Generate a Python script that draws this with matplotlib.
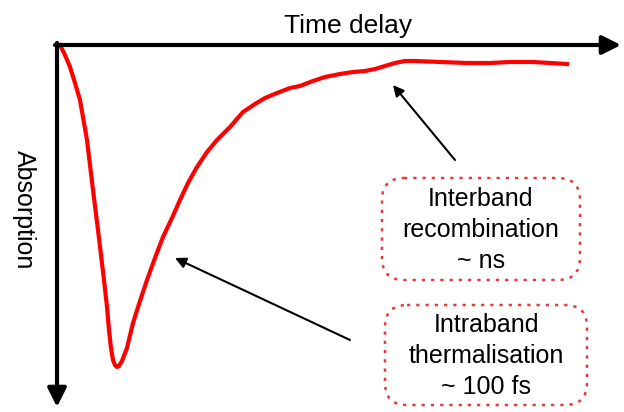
import numpy as np
import matplotlib
matplotlib.use("Agg")
import matplotlib.pyplot as plt
from matplotlib.patches import FancyBboxPatch

plt.rcParams['font.family'] = ['Liberation Sans', 'DejaVu Sans']

# transient absorption trace (arbitrary units,
# time to the right, absorption change growing downwards)
time_delay = [3, 8, 13, 18, 23, 30, 36, 41, 44, 47, 50, 52, 54, 56, 58, 60,
              62, 65, 70, 76, 83, 90, 98, 106, 115, 123, 131, 140, 150, 160,
              173, 186, 198, 208, 220, 233, 243, 256, 268, 283, 296, 308,
              318, 328, 338, 348, 358, 383, 410, 433, 453, 476, 493, 510]
absorption = [0, 10, 22, 38, 55, 95, 145, 185, 210, 235, 262, 285, 303, 315,
              320, 322, 321, 316, 303, 278, 256, 235, 213, 192, 173, 155, 138,
              122, 107, 95, 82, 67, 59, 53, 48, 43, 41, 36, 32, 29, 27, 26,
              24, 21, 18, 16, 16, 17, 18, 18, 17, 17, 18, 19]

labels = ["Interband\nrecombination\n~ ns", "Intraband\nthermalisation\n~ 100 fs"]
arrow_tip = [(336, 40), (118, 213)]
arrow_tail = [(398, 115), (293, 295)]
box_ext = [(325, 133, 198, 102), (328, 260, 202, 100)]

fig = plt.figure(figsize=(6.24, 4.12), dpi=100)
ax = fig.add_axes([0, 0, 1, 1])
ax.set_xlim(-57, 567)
ax.set_ylim(367, -45)
ax.axis('off')

# axes arrows
ax.annotate('', xy=(564, 0), xytext=(-2, 0),
            arrowprops=dict(arrowstyle='-|>', lw=3, color='black',
                            mutation_scale=28, shrinkA=0, shrinkB=0))
ax.annotate('', xy=(0, 362), xytext=(0, -2),
            arrowprops=dict(arrowstyle='-|>', lw=3, color='black',
                            mutation_scale=28, shrinkA=0, shrinkB=0))
ax.text(291, -19, 'Time delay', fontsize=19, ha='center', va='center')
ax.text(-33, 165, 'Absorption', fontsize=18, ha='center', va='center',
        rotation=270)

ax.plot(time_delay, absorption, color='#ff0000', lw=3, solid_joinstyle='round')

for lab, tip, tail, (bx, by, bw, bh) in zip(labels, arrow_tip, arrow_tail, box_ext):
    box = FancyBboxPatch((bx, by), bw, bh,
                         boxstyle='round,pad=0,rounding_size=22',
                         fill=False, edgecolor='#e03c3c', lw=1.8,
                         linestyle=(0, (1.3, 2.4)))
    ax.add_patch(box)
    ax.text(bx + bw / 2, by + bh / 2 + 1, lab, fontsize=18, ha='center',
            va='center', linespacing=1.38)
    ax.annotate('', xy=tip, xytext=tail,
                arrowprops=dict(arrowstyle='-|>', lw=1.5, color='black',
                                mutation_scale=16, shrinkA=0, shrinkB=0))

fig.savefig('out.png', dpi=100)
